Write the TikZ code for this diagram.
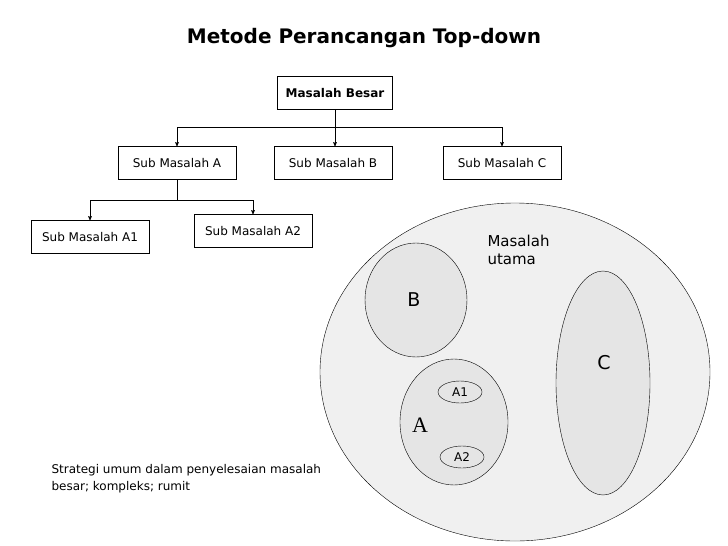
\documentclass[tikz,border=0pt]{standalone}
\usepackage{fontspec}
\setmainfont{DejaVu Sans}
\newfontfamily\serifA{Liberation Serif}
\usetikzlibrary{arrows}

\tikzset{
  box/.style={draw, minimum width=118pt, minimum height=33pt, inner sep=1pt, font=\fontsize{12}{14}\selectfont},
  blob/.style={draw, fill=black!10},
  link/.style={->, >=stealth', semithick}
}

\begin{document}
\begin{tikzpicture}[x=1pt,y=-1pt]
  \useasboundingbox (0,0) rectangle (728,546);

  \node[font=\bfseries\fontsize{20}{24}\selectfont] (title) at (364,38) {Metode Perancangan Top-down};

  \node[box, minimum width=115pt, font=\bfseries\fontsize{12}{14}\selectfont] (MB) at (335,93) {Masalah Besar};
  \node[box] (SA)  at (177,163) {Sub Masalah A};
  \node[box] (SB)  at (333,163) {Sub Masalah B};
  \node[box] (SC)  at (502,163) {Sub Masalah C};
  \node[box] (SA1) at (90,237)  {Sub Masalah A1};
  \node[box] (SA2) at (253,231) {Sub Masalah A2};

  \coordinate (j1) at (335,127);
  \coordinate (j2) at (177,200);
  \draw[semithick] (MB.south) -- (j1);
  \draw[link] (j1) -| (SA.north);
  \draw[link] (j1) -| (SC.north);
  \draw[link] (j1) -- (j1 |- SB.north);
  \draw[semithick] (SA.south) -- (j2);
  \draw[link] (j2) -| (SA1.north);
  \draw[link] (j2) -| (SA2.north);

  % diagram of nested problems
  \draw[blob, fill=black!6] (515,372) ellipse [x radius=195, y radius=169];
  \node[align=left, anchor=north west, font=\fontsize{15}{18}\selectfont] (utama) at (484,232) {Masalah\\utama};

  \draw[blob] (416,300) ellipse [x radius=51, y radius=57];
  \node[font=\fontsize{19}{22}\selectfont] (B) at (414,300) {B};

  \draw[blob] (603,383) ellipse [x radius=47, y radius=112];
  \node[font=\fontsize{19}{22}\selectfont] (C) at (604,363) {C};

  \draw[blob] (454,422) ellipse [x radius=54, y radius=63];
  \node[font=\serifA\fontsize{22}{24}\selectfont] (A) at (420,425) {A};
  \draw[blob] (460,392) ellipse [x radius=22, y radius=11];
  \node[font=\fontsize{12}{14}\selectfont] (A1) at (460,392) {A1};
  \draw[blob] (462,457) ellipse [x radius=22, y radius=11];
  \node[font=\fontsize{12}{14}\selectfont] (A2) at (462,457) {A2};

  \node[align=left, anchor=north west, font=\fontsize{12}{17}\selectfont] (note) at (48,461)
    {Strategi umum dalam penyelesaian masalah\\besar; kompleks; rumit};
\end{tikzpicture}
\end{document}
